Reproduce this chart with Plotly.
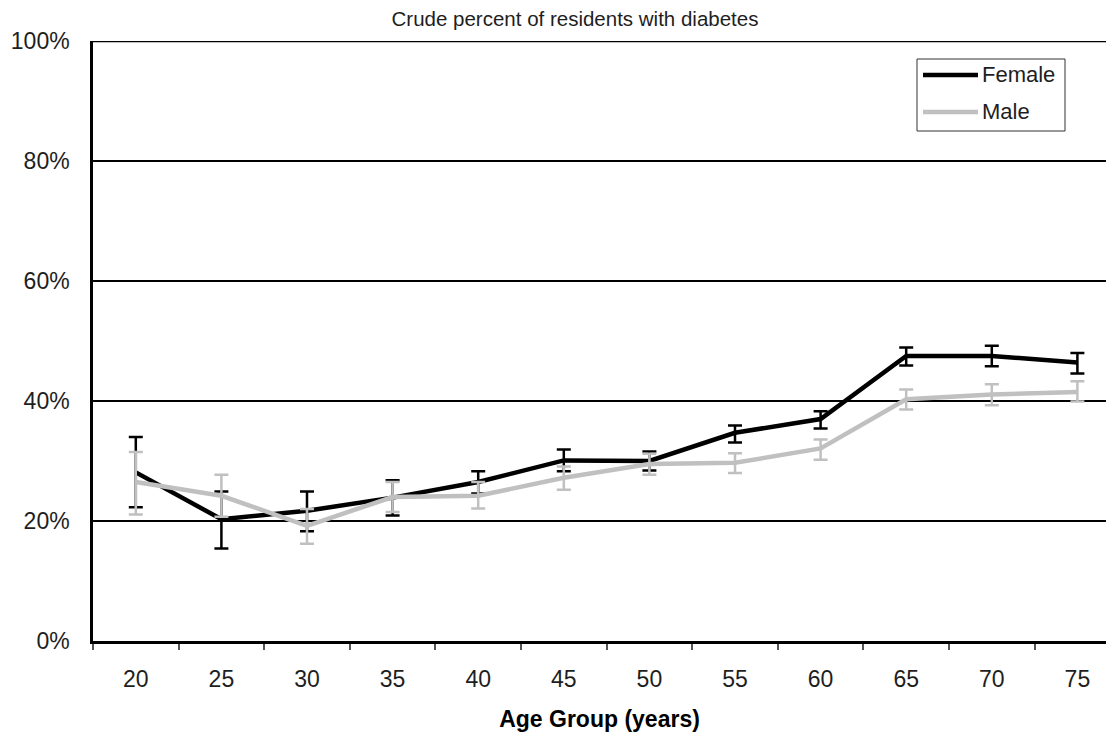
import plotly.graph_objects as go

# ---- data ----
age_groups = ["20", "25", "30", "35", "40", "45", "50", "55", "60", "65", "70", "75"]

female = [28.1, 20.3, 21.7, 23.9, 26.5, 30.1, 30.0, 34.7, 37.0, 47.5, 47.5, 46.4]
female_upper = [34.0, 24.9, 24.9, 26.8, 28.3, 31.9, 31.6, 35.9, 38.3, 48.9, 49.2, 48.0]
female_lower = [22.3, 15.4, 18.3, 20.9, 24.6, 28.3, 28.4, 33.1, 35.4, 45.9, 45.8, 44.6]

male = [26.5, 24.2, 19.2, 24.0, 24.2, 27.2, 29.5, 29.7, 32.1, 40.3, 41.1, 41.5]
male_upper = [31.5, 27.7, 22.0, 26.5, 26.5, 29.1, 31.2, 31.3, 33.6, 41.9, 42.8, 43.3]
male_lower = [21.1, 20.7, 16.2, 21.5, 22.1, 25.2, 27.7, 28.0, 30.2, 38.6, 39.3, 39.9]

y_tick_vals = [0, 20, 40, 60, 80, 100]
y_tick_text = ["0%", "20%", "40%", "60%", "80%", "100%"]

series_names = ["Female", "Male"]
series_colors = ["#000000", "#c0c0c0"]

title_text = "Crude percent of residents with diabetes"
x_title = "Age Group (years)"

FONT = "Liberation Sans, Arial, Helvetica, sans-serif"
TXT = "#1e1e1e"

# figure sits at an 8px page offset inside the 1114x740 window
W, H = 1098, 724
L, T, B = 85, 33, 91
PW, PH = W - L, H - T - B
CAT_PX = 85.6  # pixel width of one age-group band


def err(vals, upper, lower):
    return dict(
        type="data",
        symmetric=False,
        array=[u - v for u, v in zip(upper, vals)],
        arrayminus=[v - l for v, l in zip(vals, lower)],
        thickness=2.5,
        width=7,
    )


fig = go.Figure()
for name, vals, up, lo, col in [
    (series_names[0], female, female_upper, female_lower, series_colors[0]),
    (series_names[1], male, male_upper, male_lower, series_colors[1]),
]:
    fig.add_trace(go.Scatter(
        x=age_groups, y=vals, name=name, mode="lines",
        line=dict(color=col, width=4.5),
        error_y=dict(color=col, **err(vals, up, lo)),
        showlegend=False,
    ))


# paper-coordinate helpers (figure pixel -> plot-area fraction)
def px(xp):
    return (xp - L) / PW


def py(yp):
    return (H - B - yp) / PH


shapes = [
    # top frame line at 100%
    dict(type="line", xref="paper", yref="y", x0=0, x1=1, y0=100, y1=100,
         line=dict(color="#000000", width=2.5), layer="below"),
    # legend box
    dict(type="rect", xref="paper", yref="paper",
         x0=px(909), x1=px(1057), y0=py(123), y1=py(51),
         line=dict(color="#333333", width=1), fillcolor="white", layer="above"),
]
annotations = []
legend_rows = [67, 104]
for name, col, yy in zip(series_names, series_colors, legend_rows):
    shapes.append(dict(type="line", xref="paper", yref="paper",
                       x0=px(915), x1=px(970), y0=py(yy), y1=py(yy),
                       line=dict(color=col, width=4.5), layer="above"))
    annotations.append(dict(text=name, xref="paper", yref="paper",
                            x=px(972), y=py(yy), xanchor="left", yanchor="middle",
                            showarrow=False,
                            font=dict(size=22, color=TXT, family=FONT)))

fig.update_layout(
    width=W, height=H,
    margin=dict(l=L, r=0, t=T, b=B),
    paper_bgcolor="white", plot_bgcolor="white",
    font=dict(family=FONT, color=TXT),
    title=dict(text=title_text, x=567 / W, xref="container", xanchor="center",
               y=1 - 11 / H, yref="container", yanchor="middle",
               font=dict(size=20.5, color=TXT, family=FONT)),
    showlegend=False,
    shapes=shapes,
    annotations=annotations,
    xaxis=dict(
        type="category", range=[-0.5, -0.5 + PW / CAT_PX], automargin=False,
        showgrid=False, zeroline=False,
        showline=True, linecolor="#000000", linewidth=2.5,
        ticks="outside", ticklen=6, tickwidth=1.5, tickcolor="#555555",
        tickson="boundaries",
        tickfont=dict(size=23, color=TXT, family=FONT),
        ticklabelstandoff=16,
        title=dict(text="<b>" + x_title + "</b>", standoff=27,
                   font=dict(size=23, color="#000000", family=FONT)),
    ),
    yaxis=dict(
        range=[0, 100], tickvals=y_tick_vals, ticktext=y_tick_text, automargin=False,
        showgrid=True, gridcolor="#000000", gridwidth=2,
        zeroline=False,
        showline=True, linecolor="#000000", linewidth=2.5,
        ticks="", ticklabelstandoff=16,
        tickfont=dict(size=23, color=TXT, family=FONT),
    ),
)

fig.write_html("out.html")
